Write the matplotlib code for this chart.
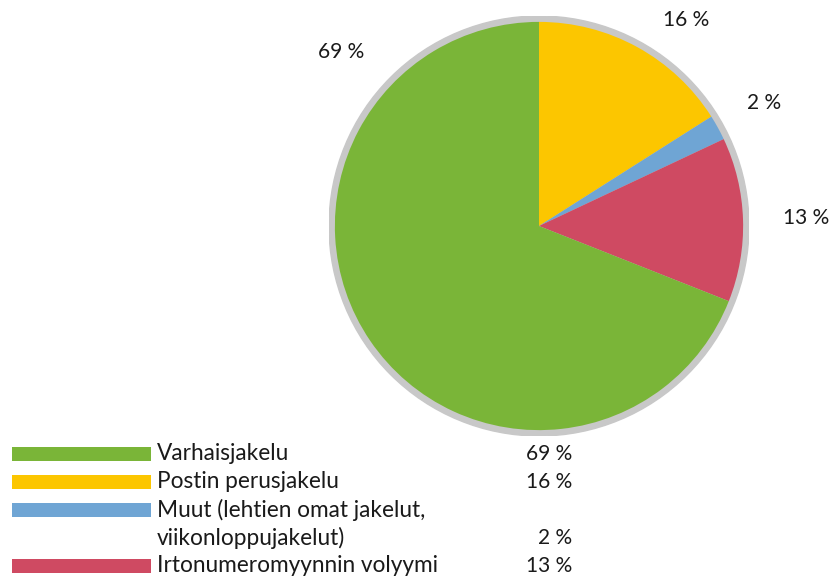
import matplotlib
matplotlib.use('Agg')
from matplotlib import pyplot as plt
from matplotlib.patches import Circle, Rectangle

plt.rcParams['font.family'] = ['Lato', 'DejaVu Sans']

# Data
categories = ['Varhaisjakelu', 'Postin perusjakelu',
              'Muut (lehtien omat jakelut,\nviikonloppujakelut)',
              'Irtonumeromyynnin volyymi']
shares = [69, 16, 2, 13]
colors = ['#7ab538', '#fcc600', '#6fa5d4', '#cf4a62']

# Pie order: clockwise from 12 o'clock
pie_order = [1, 2, 3, 0]

W, H = 831, 580
fig = plt.figure(figsize=(W / 100, H / 100), dpi=100)

# Pie axes, centred at (539, 226) px with outer radius 210 px
cx, cy, R = 539, 226, 210
ax = fig.add_axes([(cx - R) / W, (H - cy - R) / H, 2 * R / W, 2 * R / H])

ax.add_patch(Circle((0, 0), 1.0, color='#c8c8c8', zorder=0))
ax.pie([shares[i] for i in pie_order],
       colors=[colors[i] for i in pie_order],
       startangle=90, counterclock=False, radius=0.972,
       wedgeprops=dict(linewidth=0), frame=True)
ax.set_xlim(-1, 1)
ax.set_ylim(-1, 1)
ax.set_aspect('equal')
ax.axis('off')

# Percentage labels around the pie (pixel positions of text centres)
label_px = {0: (341, 52), 1: (686, 20), 2: (764, 103), 3: (806, 218)}
for i, (px, py) in label_px.items():
    ax.text((px - cx) / R, (cy - py) / R, f'{shares[i]} %',
            ha='center', va='center', fontsize=15, color='#1a1a1a')

# Legend in pixel coordinates
lax = fig.add_axes([0, 0, 1, 1])
lax.set_xlim(0, W)
lax.set_ylim(H, 0)
lax.axis('off')
lax.patch.set_alpha(0)

row_y = [454, 482, 510, 566]
pct_y = [454, 482, 538, 566]
for i, name in enumerate(categories):
    y = row_y[i]
    lax.add_patch(Rectangle((12, y - 7), 139, 14, color=colors[i], lw=0))
    for k, line in enumerate(name.split('\n')):
        lax.text(157, y + 28 * k, line, ha='left', va='center',
                 fontsize=16.3, color='#1a1a1a')
    lax.text(572, pct_y[i], f'{shares[i]} %', ha='right', va='center',
             fontsize=15, color='#1a1a1a')

fig.savefig('out.png', dpi=100)
